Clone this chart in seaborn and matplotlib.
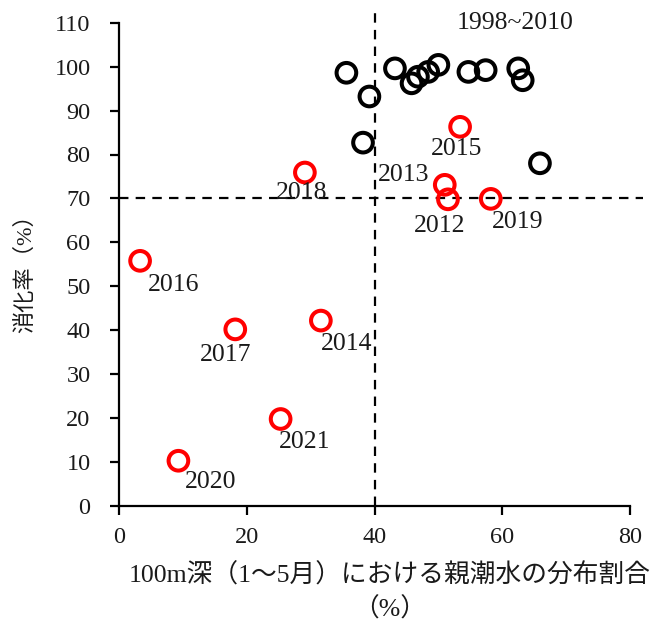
import matplotlib
matplotlib.use("Agg")
import matplotlib.pyplot as plt
import pandas as pd
import seaborn as sns

# Oyashio water share at 100 m depth (Jan-May, %) vs. digestion rate (%)
# 1998~2010
base_x = [35.6, 39.2, 38.2, 43.2, 45.8, 46.8, 48.4, 50.0, 54.7, 57.4, 62.5, 63.2, 65.9]
base_y = [98.6, 93.2, 82.7, 99.6, 96.2, 97.7, 98.8, 100.4, 98.8, 99.2, 99.6, 96.9, 78.0]

# 2012 onwards
recent_years = ["2012", "2013", "2014", "2015", "2016", "2017", "2018", "2019", "2020", "2021"]
recent_x = [51.5, 51.0, 31.6, 53.4, 3.3, 18.2, 29.1, 58.2, 9.3, 25.3]
recent_y = [69.8, 73.1, 42.2, 86.3, 55.8, 40.2, 75.9, 69.9, 10.3, 19.8]

x_threshold = 40
y_threshold = 70

x_ticks = [0, 20, 40, 60, 80]
y_ticks = list(range(0, 111, 10))

base_df = pd.DataFrame({"x": base_x, "y": base_y})
recent_df = pd.DataFrame({"year": recent_years, "x": recent_x, "y": recent_y})

# label offsets (points) for each year annotation
label_offsets = {
    "2012": (-5.8, -19.4), "2013": (-29.5, 7.2), "2014": (18.7, -16.6),
    "2015": (-2.2, -15.8), "2016": (23.8, -17.3), "2017": (-7.2, -18.5),
    "2018": (-2.2, -14.4), "2019": (19.4, -16.6), "2020": (23.0, -15.1),
    "2021": (17.3, -16.6),
}

sns.set_style("ticks")
plt.rcParams["font.family"] = ["Liberation Serif", "Noto Sans CJK JP"]
plt.rcParams["lines.scale_dashes"] = False

fig = plt.figure(figsize=(6.59, 6.25), dpi=100)
ax = fig.add_axes([0.1806, 0.1904, 0.7754, 0.7733])

marker_kw = dict(marker="o", s=200, facecolor="none", linewidth=2.9, legend=False, zorder=3)
sns.scatterplot(data=base_df, x="x", y="y", edgecolor="black", ax=ax, **marker_kw)
sns.scatterplot(data=recent_df, x="x", y="y", edgecolor="#ff0000", ax=ax, **marker_kw)

dash = (0, (6.8, 5.2))
ax.axvline(x_threshold, ymin=0, ymax=112.5 / 110, color="black", lw=1.6,
           linestyle=dash, clip_on=False, zorder=2)
ax.axhline(y_threshold, xmin=0, xmax=82 / 80, color="black", lw=1.6,
           linestyle=dash, clip_on=False, zorder=2)

for yr, xv, yv in zip(recent_years, recent_x, recent_y):
    ax.annotate(yr, (xv, yv), xytext=label_offsets[yr], textcoords="offset points",
                ha="center", va="center", fontsize=18.5, color="#1a1a1a",
                annotation_clip=False, zorder=4)

ax.text(62.0, 109.9, "1998~2010", ha="center", va="center", fontsize=18.5,
        color="#1a1a1a", clip_on=False)

ax.set_xlim(0, 80)
ax.set_ylim(0, 110)
ax.set_xticks(x_ticks)
ax.set_yticks(y_ticks)
ax.tick_params(axis="both", labelsize=17.5, width=1.6, length=6.5, color="black",
               labelcolor="#1a1a1a")
ax.tick_params(axis="y", pad=14)
ax.tick_params(axis="x", pad=8.5)
for side in ("left", "bottom"):
    ax.spines[side].set_linewidth(1.6)
    ax.spines[side].set_color("black")
sns.despine(ax=ax)

ax.set_xlabel("100m深（1～5月）における親潮水の分布割合\n（%）", fontsize=18.5,
              color="#1a1a1a", linespacing=1.5)
ax.xaxis.set_label_coords(0.530, -0.118)
ax.set_ylabel("消化率（%）", fontsize=16, color="#1a1a1a")
ax.yaxis.label.set_verticalalignment("center")
ax.yaxis.set_label_coords(-0.184, 0.4925)

fig.savefig("out.png", dpi=100, facecolor="white")
